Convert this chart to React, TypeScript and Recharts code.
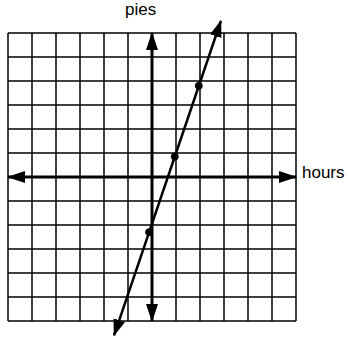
import { ComposedChart, Line, XAxis, YAxis, ReferenceLine } from 'recharts';

// grid ticks (-6 .. 6 on both axes)
const gridTicks = [-6, -5, -4, -3, -2, -1, 0, 1, 2, 3, 4, 5, 6];

// axis lines (arrow at both ends)
const hoursAxis = [
  { x: -6, y: 0 },
  { x: 6, y: 0 },
];
const piesAxis = [
  { x: 0, y: -6 },
  { x: 0, y: 6 },
];

// plotted line, read from the arrow tips
const linePoints = [
  { x: -1.58, y: -6.6 },
  { x: 2.87, y: 6.5 },
];

// marked points on the line
const markedPoints = [
  { x: -0.12, y: -2.3 },
  { x: 0.95, y: 0.85 },
  { x: 1.95, y: 3.8 },
];

// the plot area is the whole picture, so the line arrows can leave the grid
const xDomain = [-6.3333, 8.25];
const yDomain = [-6.6667, 7.375];

export default function App() {
  return (
    <div style={{ position: 'absolute', left: 0, top: 0, width: 350, height: 337, fontFamily: 'Liberation Sans, Arial, sans-serif' }}>
      <ComposedChart width={350} height={337} margin={{ top: 0, right: 0, left: 0, bottom: 0 }}>
        <defs>
          {/* end arrows point along the path, start arrows point back */}
          <marker id="axisEnd" viewBox="0 0 18 12" refX="17" refY="6" markerWidth="18" markerHeight="12" markerUnits="userSpaceOnUse" orient="auto">
            <path d="M0,0 L18,6 L0,12 Z" fill="#000" />
          </marker>
          <marker id="axisStart" viewBox="0 0 18 12" refX="1" refY="6" markerWidth="18" markerHeight="12" markerUnits="userSpaceOnUse" orient="auto">
            <path d="M18,0 L0,6 L18,12 Z" fill="#000" />
          </marker>
          <marker id="lineEnd" viewBox="0 0 17 12" refX="16" refY="6" markerWidth="17" markerHeight="12" markerUnits="userSpaceOnUse" orient="auto">
            <path d="M0,0 L17,6 L0,12 Z" fill="#000" />
          </marker>
          <marker id="lineStart" viewBox="0 0 17 12" refX="1" refY="6" markerWidth="17" markerHeight="12" markerUnits="userSpaceOnUse" orient="auto">
            <path d="M17,0 L0,6 L17,12 Z" fill="#000" />
          </marker>
        </defs>
        <XAxis type="number" dataKey="x" domain={xDomain} hide allowDataOverflow />
        <YAxis type="number" dataKey="y" domain={yDomain} hide allowDataOverflow />

        {gridTicks.map((t) => (
          <ReferenceLine
            key={`v${t}`}
            segment={[{ x: t, y: -6 }, { x: t, y: 6 }]}
            stroke="#000"
            strokeWidth={1.5}
          />
        ))}
        {gridTicks.map((t) => (
          <ReferenceLine
            key={`h${t}`}
            segment={[{ x: -6, y: t }, { x: 6, y: t }]}
            stroke="#000"
            strokeWidth={1.5}
          />
        ))}

        <Line
          data={hoursAxis}
          dataKey="y"
          stroke="#000"
          strokeWidth={3}
          dot={false}
          activeDot={false}
          isAnimationActive={false}
          markerStart="url(#axisStart)"
          markerEnd="url(#axisEnd)"
        />
        <Line
          data={piesAxis}
          dataKey="y"
          stroke="#000"
          strokeWidth={3}
          dot={false}
          activeDot={false}
          isAnimationActive={false}
          markerStart="url(#axisStart)"
          markerEnd="url(#axisEnd)"
        />
        <Line
          data={linePoints}
          dataKey="y"
          stroke="#000"
          strokeWidth={2.5}
          dot={false}
          activeDot={false}
          isAnimationActive={false}
          markerStart="url(#lineStart)"
          markerEnd="url(#lineEnd)"
        />
        <Line
          data={markedPoints}
          dataKey="y"
          stroke="none"
          dot={{ r: 3.5, fill: '#000', stroke: '#000' }}
          activeDot={false}
          isAnimationActive={false}
        />
      </ComposedChart>
      <span style={{ position: 'absolute', left: 125, top: 0, fontSize: 17, color: '#000' }}>pies</span>
      <span style={{ position: 'absolute', left: 302, top: 163, fontSize: 17, color: '#000' }}>hours</span>
    </div>
  );
}
